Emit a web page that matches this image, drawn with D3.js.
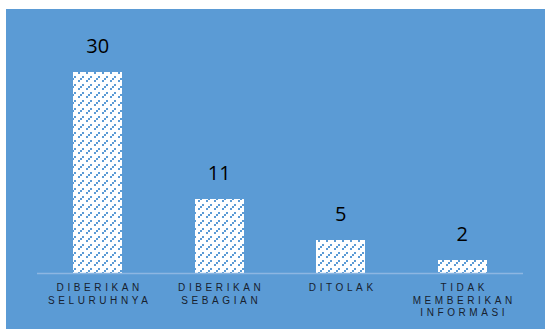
<!DOCTYPE html>
<html>
<head>
<meta charset="utf-8">
<script src="https://cdn.jsdelivr.net/npm/d3@7"></script>
<style>
  html, body { margin: 0; padding: 0; background: #fff; }
</style>
</head>
<body>
<div id="chart"></div>
<script>
// data
const categories = ["DIBERIKAN SELURUHNYA", "DIBERIKAN SEBAGIAN", "DITOLAK", "TIDAK MEMBERIKAN INFORMASI"];
const labelLines = [["DIBERIKAN", "SELURUHNYA"], ["DIBERIKAN", "SEBAGIAN"], ["DITOLAK"], ["TIDAK", "MEMBERIKAN", "INFORMASI"]];
const values = [30, 11, 5, 2];

const width = 545, height = 329;
const bg = "#5b9bd5";

const svg = d3.select("#chart").append("svg")
    .attr("width", width)
    .attr("height", height);

svg.append("rect")
    .attr("x", 6).attr("y", 9)
    .attr("width", width - 6).attr("height", height - 9)
    .attr("fill", bg);

// hatched fill (dashed upward diagonals)
const pat = svg.append("defs").append("pattern")
    .attr("id", "hatch")
    .attr("patternUnits", "userSpaceOnUse")
    .attr("width", 8).attr("height", 8);
pat.append("rect").attr("width", 8).attr("height", 8).attr("fill", "#fff");
[[0, 6], [2, 4], [4, 2], [6, 0]].forEach(([px, py], k) => {
  if (k === 2) return; // gap in the dash
  pat.append("rect")
      .attr("x", px).attr("y", py)
      .attr("width", 2).attr("height", 2)
      .attr("fill", bg);
});

const x = d3.scaleBand()
    .domain(categories)
    .range([37, 523])
    .paddingInner(0.6)
    .paddingOuter(0.3);

const y = d3.scaleLinear()
    .domain([0, 30])
    .range([273, 72]);

svg.append("g")
    .selectAll("rect")
    .data(values)
    .join("rect")
      .attr("x", (d, i) => x(categories[i]))
      .attr("y", d => y(d))
      .attr("width", x.bandwidth())
      .attr("height", d => y(0) - y(d))
      .attr("fill", "url(#hatch)")
      .attr("shape-rendering", "crispEdges");

// baseline
svg.append("line")
    .attr("x1", 37).attr("x2", 523)
    .attr("y1", y(0) + 0.5).attr("y2", y(0) + 0.5)
    .attr("stroke", "#8db6e2")
    .attr("stroke-width", 1.5);

// value labels
svg.append("g")
    .selectAll("text")
    .data(values)
    .join("text")
      .attr("x", (d, i) => x(categories[i]) + x.bandwidth() / 2)
      .attr("y", d => y(d) - 19)
      .attr("text-anchor", "middle")
      .attr("font-family", "Open Sans, Liberation Sans, sans-serif")
      .attr("font-size", 20)
      .attr("fill", "#000")
      .text(d => d);

// category labels
const cat = svg.append("g")
    .selectAll("text")
    .data(categories)
    .join("text")
      .attr("y", 291)
      .attr("text-anchor", "middle")
      .attr("font-family", "Liberation Sans, Arial, sans-serif")
      .attr("font-size", 10)
      .attr("letter-spacing", 3.6)
      .attr("fill", "#17212e");

cat.each(function(d, i) {
  const t = d3.select(this);
  labelLines[i].forEach((line, j) => {
    t.append("tspan")
        .attr("x", x(d) + x.bandwidth() / 2 + 2)
        .attr("dy", j === 0 ? 0 : 12.5)
        .text(line);
  });
});
</script>
</body>
</html>
